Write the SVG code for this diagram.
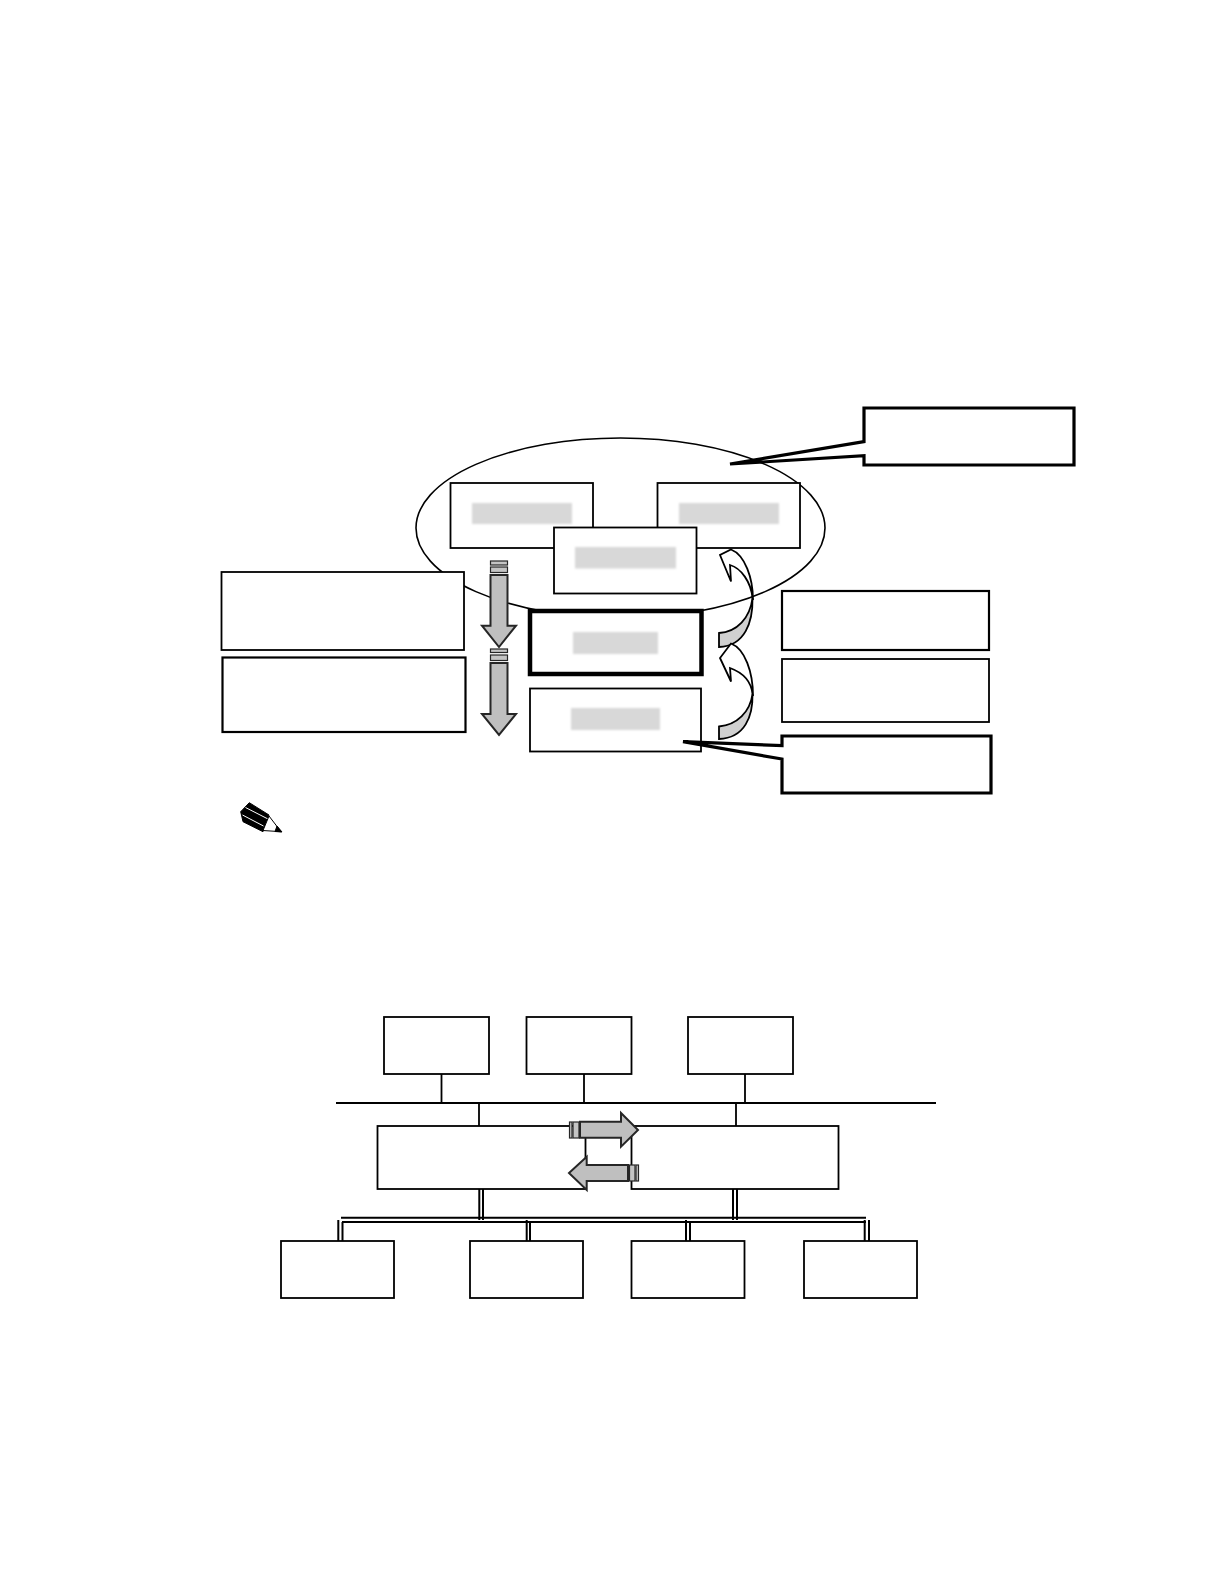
<svg xmlns="http://www.w3.org/2000/svg" width="1224" height="1584" viewBox="0 0 1224 1584">
<defs>
<style>
.b{fill:#fff;stroke:#000;stroke-width:1.8}
.h{fill:#fff;stroke:#000;stroke-width:2.2}
.c{fill:#fff;stroke:#000;stroke-width:3.2;stroke-linejoin:miter;stroke-miterlimit:4}
.m{fill:#d8d8d8;stroke:none;filter:url(#bl)}
.a{fill:#bfbfbf;stroke:#262626;stroke-width:2}
.s{fill:#c4c4c4;stroke:#262626;stroke-width:1.2}
.w{fill:#fff;stroke:#000;stroke-width:1.8;stroke-linejoin:miter}
.g{fill:#d0d0d0;stroke:#000;stroke-width:1.8}
.l{fill:none;stroke:#000;stroke-width:1.8}
.d{fill:none;stroke:#000;stroke-width:2}
</style>
<filter id="bl" x="-5%" y="-10%" width="110%" height="120%"><feGaussianBlur stdDeviation="0.8"/></filter>
</defs>
<rect width="1224" height="1584" fill="#fff"/>
<ellipse id="zone" cx="620.5" cy="528" rx="204.5" ry="90" fill="#fff" stroke="#000" stroke-width="1.6"/>
<g id="node-a"><rect class="b" x="450.5" y="483" width="142.5" height="65"/><rect class="m" x="472" y="503" width="100" height="21"/></g>
<g id="node-b"><rect class="b" x="657.5" y="483" width="142.5" height="65"/><rect class="m" x="679" y="503" width="100" height="21"/></g>
<g id="node-c"><rect class="b" x="554" y="527.5" width="142.5" height="66"/><rect class="m" x="575" y="547" width="101" height="21.500"/></g>
<g id="node-heavy"><rect fill="#fff" stroke="#000" stroke-width="4.500" x="530" y="611" width="171.500" height="63"/><rect class="m" x="573" y="632" width="85" height="22"/></g>
<g id="node-low"><rect class="b" x="530" y="688.500" width="171" height="63"/><rect class="m" x="571" y="708" width="89" height="22"/></g>
<g id="note-left-1"><rect class="b" x="221.500" y="572" width="242.500" height="78"/></g>
<g id="note-left-2"><rect class="h" x="222.500" y="657.500" width="243" height="74.500"/></g>
<g id="note-right-1"><rect class="h" x="782" y="591" width="207" height="59"/></g>
<g id="note-right-2"><rect class="b" x="782" y="659" width="207" height="63"/></g>
<g id="callout-top"><path class="c" d="M864,408H1074V465H864V455.700L730,464L864,441.700Z"/></g>
<g id="callout-bottom"><path class="c" d="M782,736H991V793H782V759L683,741.700L782,745.700Z"/></g>
<g id="pencil">
<path d="M249.300,802.700L240.700,811.700L243,821.700L263,831.700L269,815Z" fill="#000" stroke="#000"/>
<path d="M245.500,807.500L268,819M242.500,815L263.500,826" stroke="#fff" stroke-width="1" fill="none"/>
<path d="M269,816L263,830.500L281,831.700Z" fill="#fff" stroke="#000"/>
<path d="M277,826L282,832L275,831.500Z" fill="#000" stroke="#000"/>
</g>
<g id="connectors">
<g id="arrows-down">
<rect class="s" x="490.500" y="561" width="17" height="4"/><rect class="s" x="490.500" y="567" width="17" height="5.500"/>
<path class="a" d="M490.500,575H507.500V625.700H516L499,647L482,625.700H490.500Z"/>
<rect class="s" x="490.500" y="649" width="17" height="3.500"/><rect class="s" x="490.500" y="655" width="17" height="5.500"/>
<path class="a" d="M490.500,663H507.500V714H516L499,735L482,714H490.500Z"/>
</g>
<g id="arrows-curved">
<path class="g" d="M719,633C737,632 750,618 752.500,598C753,622 745,646 719,647Z"/>
<path class="w" d="M731,549.500C745,555 753,578 753,600L752.500,598C751,582 741,568 730,565L731,581.500L720,555Z"/>
<path class="g" d="M719,726.500C737,725 750,712 752.500,694C753,716 745,738 719,739Z"/>
<path class="w" d="M731,643.500C745,649 753,672 753,696L752.500,694C751,680 741,672 730,668L731,681.500L720,658Z"/>
</g>
<g id="bus-lines">
<path class="l" d="M336,1103H936M441.500,1074V1103M584,1074V1103M745,1074V1103M479,1103V1126M736,1103V1126"/>
</g>
</g>
<g id="top-1"><rect class="b" x="384" y="1017" width="105" height="57"/></g>
<g id="top-2"><rect class="b" x="526.500" y="1017" width="105" height="57"/></g>
<g id="top-3"><rect class="b" x="688" y="1017" width="105" height="57"/></g>
<g id="mid-left"><rect class="b" x="377.500" y="1126" width="208" height="63"/></g>
<g id="mid-right"><rect class="b" x="631.500" y="1126" width="207" height="63"/></g>
<g id="bottom-1"><rect class="b" x="281" y="1241" width="113" height="57"/></g>
<g id="bottom-2"><rect class="b" x="470" y="1241" width="113" height="57"/></g>
<g id="bottom-3"><rect class="b" x="631.500" y="1241" width="113" height="57"/></g>
<g id="bottom-4"><rect class="b" x="804" y="1241" width="113" height="57"/></g>
<g id="connectors-lower">
<path class="d" d="M341,1217.700H866M342,1222H866M479.300,1189V1220M483,1189V1220M733,1189V1220M737,1189V1220M338.300,1220V1241M342.500,1222V1241M526.700,1220V1241M530,1222V1241M686,1220V1241M690,1222V1241M864.700,1220V1241M869,1220V1241"/>
<rect class="s" x="569.500" y="1122" width="2.500" height="16"/><rect class="s" x="573" y="1122" width="6" height="16"/>
<path class="a" d="M580,1121.700H621V1113L638,1130L621,1146.700V1137.700H580Z"/>
<path class="a" d="M628,1165H586.700V1156.700L569,1173L586.700,1190V1181H628Z"/>
<rect class="s" x="629.500" y="1165" width="5.500" height="16"/><rect class="s" x="636" y="1165" width="2.500" height="16"/>
</g>
</svg>
